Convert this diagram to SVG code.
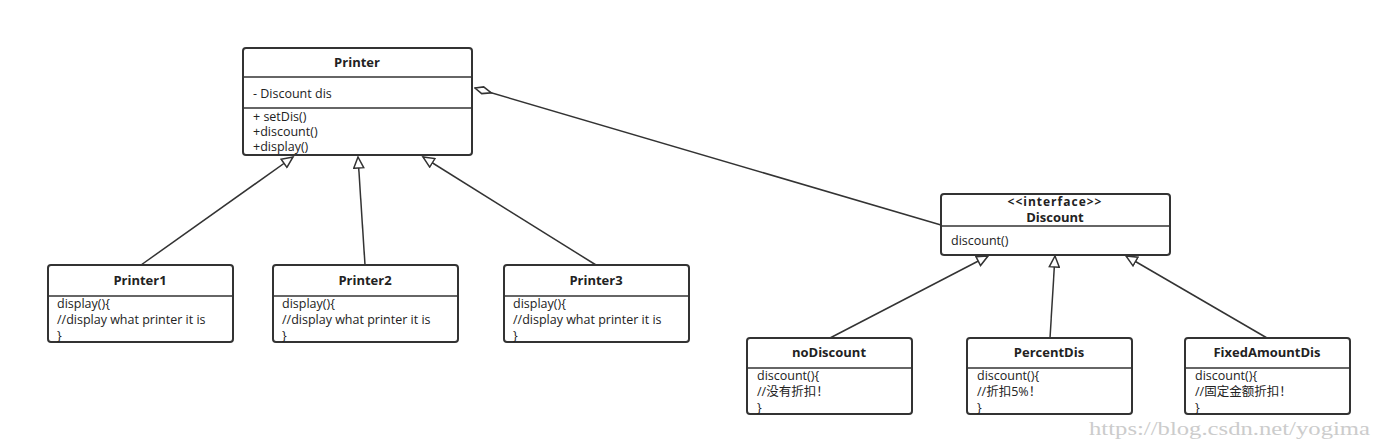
<svg xmlns="http://www.w3.org/2000/svg" width="1382" height="448" viewBox="0 0 1382 448">
<style>
.box{fill:#fff;stroke:#333;stroke-width:2}
.ln{stroke:#333;stroke-width:1.5;fill:none}
.t{font-family:"Open Sans","Noto Sans CJK SC",sans-serif;font-size:12.5px;fill:#222}
.b{font-weight:bold;text-anchor:middle;font-size:13px}
.wm{font-family:"Liberation Serif","Noto Sans CJK SC",serif;font-size:18px;fill:#ccc}
</style>
<defs>
<marker id="tri" markerWidth="14" markerHeight="12" refX="12" refY="6" orient="auto" markerUnits="userSpaceOnUse"><path d="M1,1 L12,6 L1,11 Z" fill="#fff" stroke="#333" stroke-width="1.5"/></marker>
<marker id="dia" markerWidth="20" markerHeight="10" refX="1" refY="5" orient="auto" markerUnits="userSpaceOnUse"><path d="M1,5 L9,1.5 L18,5 L9,8.5 Z" fill="#fff" stroke="#333" stroke-width="1.5"/></marker>
</defs>
<rect width="1382" height="448" fill="#fff"/>
<g id="connectors">
<line class="ln" x1="141" y1="265" x2="293" y2="157" marker-end="url(#tri)"/>
<line class="ln" x1="365" y1="265" x2="358" y2="157" marker-end="url(#tri)"/>
<line class="ln" x1="596" y1="265" x2="423" y2="157" marker-end="url(#tri)"/>
<line class="ln" x1="475" y1="88" x2="941" y2="225" marker-start="url(#dia)"/>
<line class="ln" x1="830" y1="338" x2="988" y2="256" marker-end="url(#tri)"/>
<line class="ln" x1="1050" y1="338" x2="1055" y2="256" marker-end="url(#tri)"/>
<line class="ln" x1="1267" y1="338" x2="1126" y2="256" marker-end="url(#tri)"/>
</g>
<g id="Printer">
<rect class="box" x="243" y="48" width="229" height="107" rx="3"/>
<line class="ln" x1="243" y1="77" x2="472" y2="77"/><line class="ln" x1="243" y1="108" x2="472" y2="108"/>
<text class="t b" x="357" y="67">Printer</text>
<text class="t" x="253" y="98">- Discount dis</text>
<text class="t" x="253" y="121">+ setDis()</text>
<text class="t" x="253" y="136">+discount()</text>
<text class="t" x="253" y="151">+display()</text>
</g>
<g id="Printer1">
<rect class="box" x="48" y="265" width="185" height="77" rx="3"/><line class="ln" x1="48" y1="296" x2="233" y2="296"/>
<text class="t b" x="140" y="285">Printer1</text>
<text class="t" x="57" y="308">display(){</text><text class="t" x="57" y="324">//display what printer it is</text><text class="t" x="57" y="340">}</text>
</g>
<g id="Printer2">
<rect class="box" x="273" y="265" width="185" height="77" rx="3"/><line class="ln" x1="273" y1="296" x2="458" y2="296"/>
<text class="t b" x="365" y="285">Printer2</text>
<text class="t" x="282" y="308">display(){</text><text class="t" x="282" y="324">//display what printer it is</text><text class="t" x="282" y="340">}</text>
</g>
<g id="Printer3">
<rect class="box" x="504" y="265" width="185" height="77" rx="3"/><line class="ln" x1="504" y1="296" x2="689" y2="296"/>
<text class="t b" x="596" y="285">Printer3</text>
<text class="t" x="513" y="308">display(){</text><text class="t" x="513" y="324">//display what printer it is</text><text class="t" x="513" y="340">}</text>
</g>
<g id="Discount">
<rect class="box" x="941" y="194" width="229" height="61" rx="3"/><line class="ln" x1="941" y1="226" x2="1170" y2="226"/>
<text class="t b" x="1055" y="206" style="font-size:12px;letter-spacing:1px">&lt;&lt;interface&gt;&gt;</text>
<text class="t b" x="1055" y="222">Discount</text>
<text class="t" x="951" y="245">discount()</text>
</g>
<g id="noDiscount">
<rect class="box" x="747" y="338" width="165" height="76" rx="3"/><line class="ln" x1="747" y1="368" x2="912" y2="368"/>
<text class="t b" x="829" y="357">noDiscount</text>
<text class="t" x="757" y="380">discount(){</text><text class="t" x="757" y="396">//没有折扣！</text><text class="t" x="757" y="412">}</text>
</g>
<g id="PercentDis">
<rect class="box" x="967" y="338" width="165" height="76" rx="3"/><line class="ln" x1="967" y1="368" x2="1132" y2="368"/>
<text class="t b" x="1049" y="357">PercentDis</text>
<text class="t" x="977" y="380">discount(){</text><text class="t" x="977" y="396">//折扣5%！</text><text class="t" x="977" y="412">}</text>
</g>
<g id="FixedAmountDis">
<rect class="box" x="1185" y="338" width="165" height="76" rx="3"/><line class="ln" x1="1185" y1="368" x2="1350" y2="368"/>
<text class="t b" x="1267" y="357">FixedAmountDis</text>
<text class="t" x="1195" y="380">discount(){</text><text class="t" x="1195" y="396">//固定金额折扣！</text><text class="t" x="1195" y="412">}</text>
</g>
<text class="wm" x="1089" y="435" textLength="281" lengthAdjust="spacingAndGlyphs">https://blog.csdn.net/yogima</text>
</svg>
